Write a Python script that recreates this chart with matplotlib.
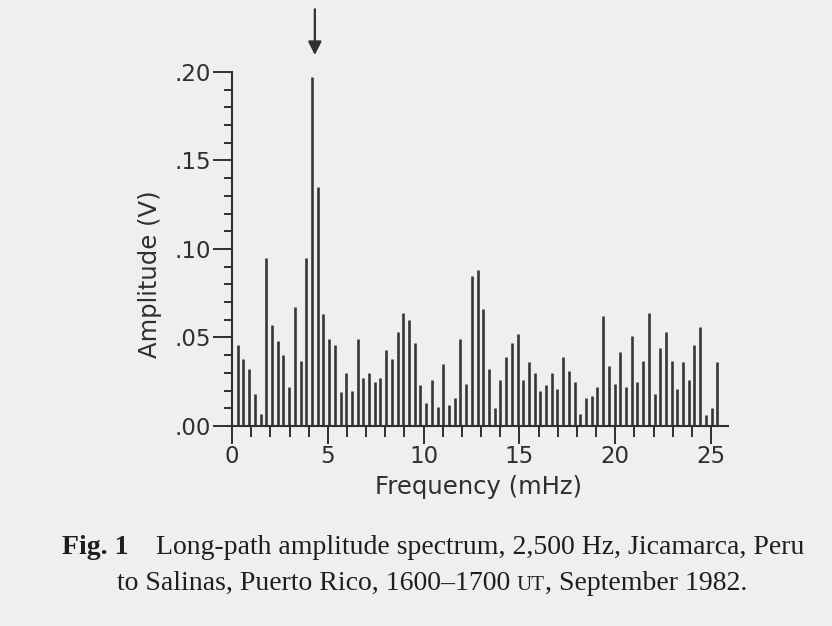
import numpy as np
import matplotlib.pyplot as plt
from matplotlib.ticker import MultipleLocator

# Spectrum bins (FFT bin number) and bin spacing in mHz
bin_index = np.arange(1, 86)
bin_width_mhz = 0.298

# Amplitude (V)
amplitude = [0.046, 0.038, 0.032, 0.018, 0.007, 0.095, 0.057, 0.048, 0.040, 0.022,
             0.067, 0.037, 0.095, 0.197, 0.135, 0.063, 0.049, 0.046, 0.019, 0.030,
             0.020, 0.049, 0.027, 0.030, 0.025, 0.027, 0.043, 0.038, 0.053, 0.064,
             0.060, 0.047, 0.023, 0.013, 0.026, 0.011, 0.035, 0.012, 0.016, 0.049,
             0.024, 0.085, 0.088, 0.066, 0.032, 0.010, 0.026, 0.039, 0.047, 0.052,
             0.026, 0.036, 0.030, 0.020, 0.023, 0.030, 0.021, 0.039, 0.031, 0.025,
             0.007, 0.016, 0.017, 0.022, 0.062, 0.034, 0.024, 0.042, 0.022, 0.051,
             0.025, 0.037, 0.064, 0.018, 0.044, 0.053, 0.037, 0.021, 0.036, 0.026,
             0.046, 0.056, 0.006, 0.010, 0.036]

y_ticks = [0.00, 0.05, 0.10, 0.15, 0.20]
y_tick_labels = [".00", ".05", ".10", ".15", ".20"]
x_ticks = [0, 5, 10, 15, 20, 25]
x_tick_labels = ["0", "5", "10", "15", "20", "25"]

freq = bin_index * bin_width_mhz
peak = int(np.argmax(amplitude))

ink = "#2f2f2f"
paper = "#efefed"

fig = plt.figure(figsize=(8.32, 6.26), dpi=100, facecolor=paper)
ax = fig.add_axes([0.2743, 0.3195, 0.601, 0.5655])
ax.set_facecolor(paper)

# the spectrum lines
ax.vlines(freq, 0, amplitude, color="#363636", linewidth=1.9)

ax.set_xlim(-0.2, 25.9)
ax.set_ylim(0, 0.20)

ax.spines["top"].set_visible(False)
ax.spines["right"].set_visible(False)
ax.spines["left"].set_position(("data", 0))
for s in ("left", "bottom"):
    ax.spines[s].set_color(ink)
    ax.spines[s].set_linewidth(1.5)

ax.set_yticks(y_ticks)
ax.set_yticklabels(y_tick_labels)
ax.yaxis.set_minor_locator(MultipleLocator(0.01))
ax.set_xticks(x_ticks)
ax.set_xticklabels(x_tick_labels)
ax.xaxis.set_minor_locator(MultipleLocator(1))

ax.tick_params(axis="y", which="major", direction="out", length=14, width=1.4,
               color=ink, labelcolor=ink, labelsize=16.5, pad=1)
ax.tick_params(axis="y", which="minor", direction="out", length=6, width=1.4, color=ink)
ax.tick_params(axis="x", which="major", direction="out", length=13, width=1.4,
               color=ink, labelcolor=ink, labelsize=16.5, pad=1)
ax.tick_params(axis="x", which="minor", direction="out", length=8, width=1.4, color=ink)

ax.set_xlabel("Frequency (mHz)", fontsize=17.5, color=ink)
ax.xaxis.set_label_coords(0.5, -0.138)
ax.set_ylabel("Amplitude (V)", fontsize=17.5, color=ink)
ax.yaxis.label.set_verticalalignment("center")
ax.yaxis.set_label_coords(-0.157, 0.43)

# arrow marking the main peak
ax.annotate("", xy=(freq[peak] + 0.15, 0.208), xytext=(freq[peak] + 0.15, 0.237),
            xycoords="data", textcoords="data", annotation_clip=False,
            arrowprops=dict(arrowstyle="-|>", color=ink, lw=1.6, mutation_scale=20))

# caption, built from pieces so "Fig. 1" is bold and "UT" is small caps
serif = "Liberation Serif"
cap_color = "#1e1e1e"
fig.canvas.draw()
r = fig.canvas.get_renderer()


def place_line(pieces, y_px, cx_px):
    texts = [fig.text(0, 0, s, fontsize=fs, family=serif, weight=w, color=cap_color,
                      transform=None, va="baseline") for s, fs, w in pieces]
    widths = [t.get_window_extent(r).width for t in texts]
    x = cx_px - sum(widths) / 2
    for t, w in zip(texts, widths):
        t.set_position((x, y_px))
        x += w


line1 = [("Fig. 1", 20, "bold"), ("    Long-path amplitude spectrum, 2,500 Hz, Jicamarca, Peru", 20, "normal")]
line2 = [("to Salinas, Puerto Rico, 1600\u20131700 ", 20, "normal"), ("UT", 15, "normal"),
         (", September 1982.", 20, "normal")]
place_line(line1, 626 - 554, 433)
place_line(line2, 626 - 590, 432)

fig.savefig("out.png", dpi=100, facecolor=paper)
